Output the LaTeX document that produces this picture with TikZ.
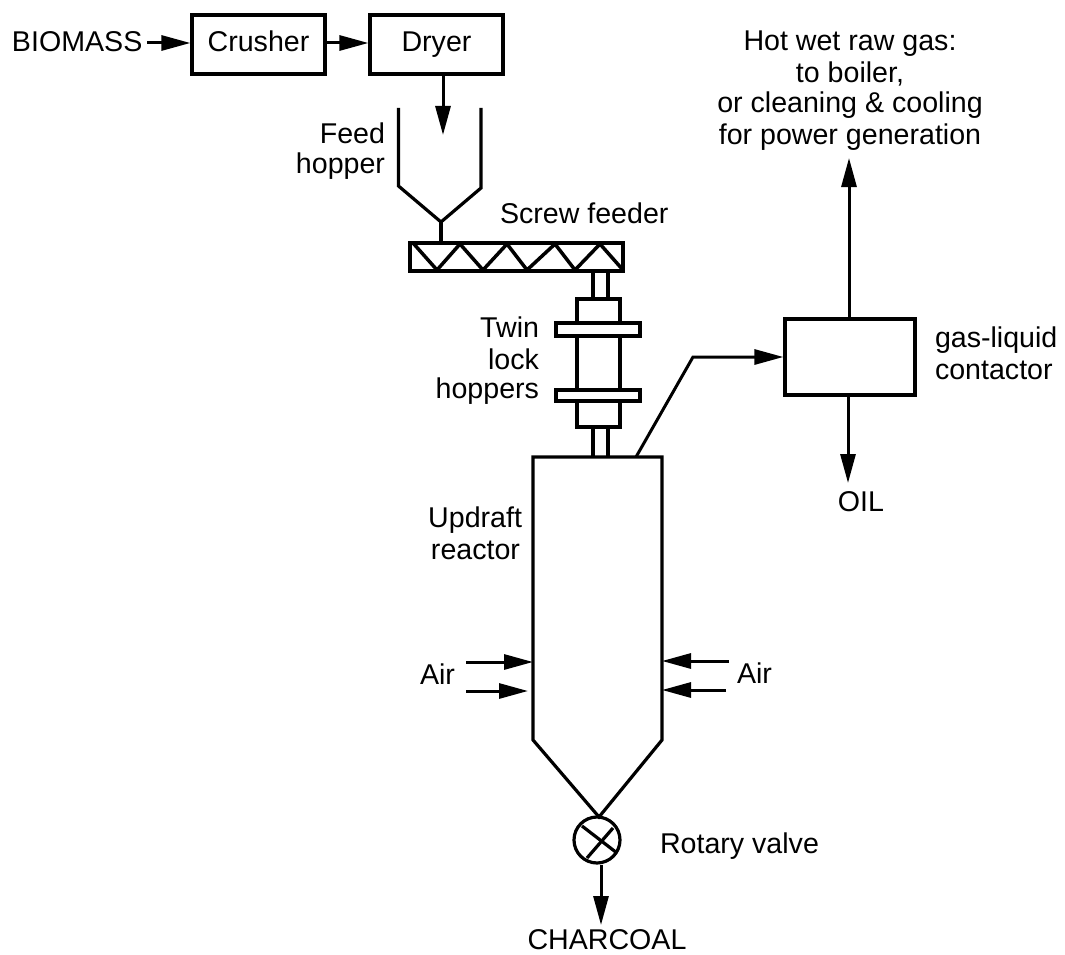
\documentclass[tikz,border=0pt]{standalone}
\usepackage{fontspec}
\setmainfont{Liberation Sans}
\usetikzlibrary{arrows.meta}
\tikzset{
  line/.style={line width=3.2pt,line join=miter,black},
  flow/.style={line,line width=3pt,-{Triangle[length=29pt,width=15pt,sep=0pt]}},
  boxn/.style={draw,line width=3.2pt,inner sep=0pt,text height=20pt,text depth=6pt,fill=white},
  partn/.style={draw,line width=3.2pt,inner sep=0pt},
  lab/.style={inner sep=0pt,outer sep=0pt,anchor=base},
  labl/.style={lab,anchor=base west},
  labr/.style={lab,anchor=base east},
}
\begin{document}
\begin{tikzpicture}[x=1pt,y=-1pt,font=\fontsize{28.6}{31.6}\selectfont]
\useasboundingbox (0,0) rectangle (1065,955);
% boxes
\node[boxn,minimum width=133pt,minimum height=59pt] (crusher) at (258.5,44.5) {Crusher};
\node[boxn,minimum width=133pt,minimum height=59pt] (dryer) at (436.5,44.5) {Dryer};
\node[boxn,minimum width=130pt,minimum height=76pt] (contactor) at (850,357) {};
% texts
\node[labl] (biomass) at (12,52) {BIOMASS};
\node[labr] (feed) at (385,143) {Feed};
\node[labr] (hopper) at (385,173) {hopper};
\node[labl] (screw) at (500,223) {Screw feeder};
\node[labr] (twin) at (539,337) {Twin};
\node[labr] (lock) at (539,369) {lock};
\node[labr] (hoppers) at (539,398) {hoppers};
\node[labr] (updraft) at (522,527) {Updraft};
\node[labr] (reactor) at (520,559) {reactor};
\node[labl] (airl) at (420,684) {Air};
\node[labl] (airr) at (737,683) {Air};
\node[labl] (rotary) at (660,853) {Rotary valve};
\node[lab] (charcoal) at (607,949) {CHARCOAL};
\node[lab] (oil) at (861,511) {OIL};
\node[labl] (gl1) at (935,347) {gas-liquid};
\node[labl] (gl2) at (935,379) {contactor};
\node[lab] (hot1) at (850,51) {Hot wet raw gas:};
\node[lab] (hot2) at (850,83) {to boiler,};
\node[lab] (hot3) at (850,113) {or cleaning \& cooling};
\node[lab] (hot4) at (850,145) {for power generation};
% top flows
\coordinate (bioOut) at (147,43);
\coordinate (dryDown) at (443,135);
\draw[flow] (bioOut) -- (bioOut -| crusher.west);
\draw[flow] (crusher.east |- 0,43) -- (dryer.west |- 0,43);
\draw[flow] (dryer.south -| dryDown) -- (dryDown);
% feed hopper
\coordinate (hTL) at (398.5,108);
\coordinate (hL) at (398.5,186);
\coordinate (hApex) at (441,222);
\coordinate (hR) at (481,188);
\coordinate (hTR) at (481,108);
\coordinate (hStem) at (441,243);
\draw[line] (hTL) -- (hL) -- (hApex) -- (hR) -- (hTR);
\draw[line] (hApex) -- (hStem);
% screw feeder
\node[partn,minimum width=213pt,minimum height=28pt] (screwbox) at (516.5,257) {};
\draw[line,line width=3.5pt] (413,243) -- (437,270) -- (460,244) -- (483,270) -- (507,244) -- (527,270) -- (555,244) -- (575,270) -- (600,244) -- (623,270);
% lock hoppers
\node[partn,minimum width=43pt,minimum height=128pt] (lockbody) at (598.5,363) {};
\node[partn,minimum width=84pt,minimum height=13pt,fill=white] (flangeA) at (598,329.5) {};
\node[partn,minimum width=84pt,minimum height=11pt,fill=white] (flangeB) at (598,395.5) {};
% pipes
\coordinate (pL) at (593,0);
\coordinate (pR) at (608,0);
\draw[line] (pL |- screwbox.south) -- (pL |- lockbody.north);
\draw[line] (pR |- screwbox.south) -- (pR |- lockbody.north);
% reactor
\coordinate (rTL) at (533,457);
\coordinate (rTR) at (662,457);
\coordinate (rBL) at (533,740);
\coordinate (rBR) at (662,740);
\coordinate (rApex) at (599,817);
\draw[line] (rApex) -- (rBL) -- (rTL) -- (rTR) -- (rBR) -- cycle;
\draw[line] (pL |- lockbody.south) -- (pL |- rTL);
\draw[line] (pR |- lockbody.south) -- (pR |- rTL);
% valve
\node[partn,circle,minimum size=46pt] (valve) at (597,840) {};
\draw[line] (582,826) -- (617,853);
\draw[line] (587,858) -- (613,828);
\draw[flow] (valve.south -| 601,0) -- (601,925);
% air
\coordinate (a1) at (466,662); \coordinate (a2) at (466,691);
\coordinate (a3) at (729,661); \coordinate (a4) at (726,690);
\draw[flow] (a1) -- (a1 -| rTL);
\draw[flow] (a2) -- (528,691);
\draw[flow] (a3) -- (a3 -| rTR);
\draw[flow] (a4) -- (a4 -| rTR);
% gas line
\coordinate (gasOut) at (636,457);
\coordinate (gasBend) at (693,357);
\draw[flow] (gasOut) -- (gasBend) -- (contactor.west);
\draw[flow] (contactor.north -| 849,0) -- (849,158);
\draw[flow] (contactor.south -| 848,0) -- (848,483);
\end{tikzpicture}
\end{document}
